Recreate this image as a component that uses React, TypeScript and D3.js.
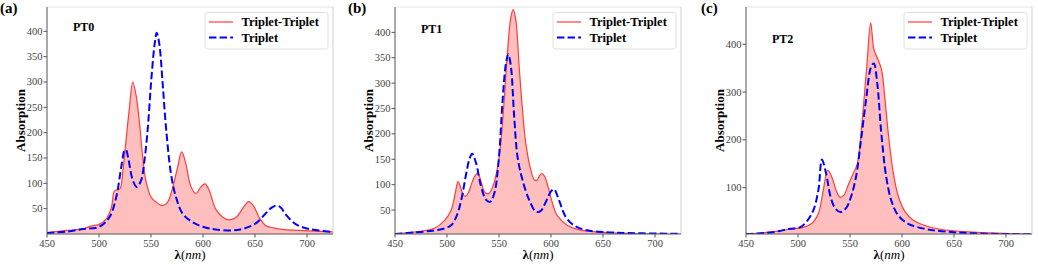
import React from 'react';
import * as d3 from 'd3';

// wavelength window and tick labels shared by all panels
const xDomain = [450, 725];
const xTicks = [450, 500, 550, 600, 650, 700];
const yTicksAB = [50, 100, 150, 200, 250, 300, 350, 400];
const yTicksC = [100, 200, 300, 400];

// PT0
const pt0TTWave = [450, 469, 485, 491, 500, 507, 512, 515, 520, 523, 526, 529, 532.5, 535.7, 539, 542, 545, 550, 555, 561, 566, 571, 575.6, 579.5, 583.5, 588, 593, 598, 602, 606, 612, 619, 625, 632, 638, 644, 649, 654, 660, 668, 676, 692, 725];
const pt0TTAbs = [3, 7, 10, 15, 19, 30, 53, 85, 89, 125, 185, 244, 300, 273, 218, 152, 106, 73, 63, 56, 63, 93, 132, 162, 139, 96, 80, 93, 99, 86, 50, 33, 28, 33, 50, 64, 54, 33, 17, 12, 9, 7, 4];
const pt0TWave = [450, 470, 485, 500, 510, 516.6, 521.4, 524.6, 526, 528, 532.5, 536.3, 540.5, 543.7, 547, 550, 553.5, 555.5, 558, 561.2, 564.4, 569.2, 574, 580.4, 588, 596, 604, 612, 628, 636, 644, 652, 660, 666, 670.5, 675, 679, 688.7, 698, 708, 725];
const pt0TAbs = [2, 5, 10, 14, 33, 73, 132, 165, 166, 151, 106, 93, 106, 145, 211, 297, 375, 397, 375, 297, 211, 119, 73, 40, 26, 17, 12, 9, 7, 9, 14, 23, 40, 52, 56, 52, 40, 20, 12, 8, 4];

// PT1
const pt1TTWave = [450, 470, 488, 498, 504, 508, 510.5, 512.7, 515, 517.5, 520.5, 524, 527, 529.6, 532.8, 536, 539.8, 544, 548.7, 552, 555, 558.3, 561.5, 563.7, 566.2, 569.4, 572.6, 575.8, 580.6, 583.8, 586.3, 588.5, 591, 594, 597, 600, 603, 606, 615.6, 625, 644, 673, 725];
const pt1TTAbs = [3, 7, 14, 30, 50, 84, 106, 97, 83, 77, 84, 104, 118, 122, 106, 86, 82, 96, 135, 188, 267, 365, 431, 445, 424, 332, 247, 181, 129, 110, 108, 116, 122, 116, 97, 74, 53, 39, 20, 12, 7, 4, 2];
const pt1TWave = [450, 470, 488, 498, 504, 509, 513.7, 518.5, 521.5, 524.2, 528, 532.8, 537.6, 541.4, 545.5, 549.7, 553.5, 556.7, 559, 561.5, 564.6, 567.8, 572.6, 579, 585.4, 590, 595, 599.7, 602.9, 607.6, 614, 622, 634.7, 657, 725];
const pt1TAbs = [3, 6, 10, 14, 20, 37, 70, 122, 150, 161, 142, 96, 70, 66, 83, 148, 267, 339, 357, 332, 234, 155, 109, 70, 47, 48, 66, 86, 91, 70, 37, 20, 10, 6, 3];

// PT2
const pt2TTWave = [450, 476.4, 492, 505.1, 513.1, 519.6, 524.3, 528.6, 532.4, 537.1, 540.4, 544.3, 548.4, 553.2, 557.1, 561.2, 566.1, 569.9, 573.1, 577.2, 580.4, 583.7, 586.8, 591.7, 596.6, 602.9, 610.9, 620.5, 636.6, 668.7, 725];
const pt2TTAbs = [2.5, 8, 13, 17, 25, 46, 95, 136, 123, 92, 80, 85, 106, 130, 151, 228, 353, 445, 388, 367, 346, 283, 214, 130, 81, 50, 32, 22, 13, 7, 2.5];
const pt2TWave = [450, 476.4, 492, 501.8, 508.3, 514.8, 519.6, 523, 527, 531.3, 535.7, 540.8, 546.2, 551, 555.8, 560.6, 565.4, 570.3, 572.9, 576.2, 580.1, 584.8, 589.6, 596, 605.5, 621.6, 637.7, 669.7, 725];
const pt2TAbs = [2.5, 7, 14, 17, 29, 53, 95, 159, 130, 81, 57, 49, 57, 81, 123, 200, 283, 353, 360, 318, 214, 123, 74, 43, 25, 14, 9, 4.5, 2.5];

const panels = [
  { tag: '(a)', name: 'PT0', left: 47, yDomain: [0, 448], yTicks: yTicksAB, nameY: 31,
    tt: pt0TTWave.map((w, i) => [w, pt0TTAbs[i]]), t: pt0TWave.map((w, i) => [w, pt0TAbs[i]]) },
  { tag: '(b)', name: 'PT1', left: 395, yDomain: [2.8, 450], yTicks: yTicksAB, nameY: 33,
    tt: pt1TTWave.map((w, i) => [w, pt1TTAbs[i]]), t: pt1TWave.map((w, i) => [w, pt1TAbs[i]]) },
  { tag: '(c)', name: 'PT2', left: 746, yDomain: [3.1, 478], yTicks: yTicksC, nameY: 43,
    tt: pt2TTWave.map((w, i) => [w, pt2TTAbs[i]]), t: pt2TWave.map((w, i) => [w, pt2TAbs[i]]) },
];

const W = 1038;
const H = 267;
const plotW = 286;
const top = 7;
const bottom = 234;
const serif = { fontFamily: "'Liberation Serif', 'DejaVu Serif', serif" };

function Panel({ p, idx }) {
  const x = d3.scaleLinear().domain(xDomain).range([p.left, p.left + plotW]);
  const y = d3.scaleLinear().domain(p.yDomain).range([bottom, top]);
  const line = d3.line().x(d => x(d[0])).y(d => y(d[1])).curve(d3.curveCatmullRom.alpha(0.5));
  const area = d3.area().x(d => x(d[0])).y0(bottom).y1(d => y(d[1])).curve(d3.curveCatmullRom.alpha(0.5));
  const clipId = `clip${idx}`;
  const right = p.left + plotW;
  const lgX = right - 128;
  const lgY = 12.5;
  const tagX = [0, 348, 701][idx];

  return (
    <g style={serif}>
      <defs>
        <clipPath id={clipId}>
          <rect x={p.left} y={top} width={plotW} height={bottom - top} />
        </clipPath>
      </defs>
      <text x={tagX} y={13} fontWeight="bold" fontSize={15}>{p.tag}</text>

      <g clipPath={`url(#${clipId})`}>
        <path d={area(p.tt)} fill="#ffbfbf" />
        <path d={line(p.tt)} fill="none" stroke="#ff3c3c" strokeWidth={1.2} />
        <path d={line(p.t)} fill="none" stroke="#0000ff" strokeWidth={2} strokeDasharray="7.4,3.2" />
      </g>

      {/* frame */}
      <line x1={p.left} x2={right} y1={top} y2={top} stroke="#e2e2e2" strokeWidth={1} />
      <line x1={right} x2={right} y1={top} y2={bottom} stroke="#cfcfcf" strokeWidth={1} />
      <line x1={p.left} x2={p.left} y1={top} y2={bottom} stroke="#555" strokeWidth={1} />
      <line x1={p.left} x2={right} y1={bottom} y2={bottom} stroke="#555" strokeWidth={1} />

      {xTicks.map(t => (
        <g key={t}>
          <line x1={x(t)} x2={x(t)} y1={bottom} y2={bottom + 3.5} stroke="#555" />
          <text x={x(t)} y={bottom + 13} textAnchor="middle" fontSize={10.5} fill="#444">{t}</text>
        </g>
      ))}
      {p.yTicks.map(t => (
        <g key={t}>
          <line x1={p.left - 3.5} x2={p.left} y1={y(t)} y2={y(t)} stroke="#555" />
          <text x={p.left - 4.5} y={y(t) + 3.5} textAnchor="end" fontSize={10.5} fill="#444">{t}</text>
        </g>
      ))}

      <text transform={`translate(${p.left - 22},${(top + bottom) / 2}) rotate(-90)`} textAnchor="middle"
        fontWeight="bold" fontSize={13}>Absorption</text>
      <text x={(p.left + right) / 2} y={259} textAnchor="middle" fontSize={13}>
        <tspan fontWeight="bold">λ</tspan><tspan>(</tspan><tspan fontStyle="italic">nm</tspan><tspan>)</tspan>
      </text>

      <text x={p.left + 26} y={p.nameY} fontWeight="bold" fontSize={12}>{p.name}</text>

      {/* legend */}
      <rect x={lgX} y={lgY} width={123} height={36.5} rx={2.5} fill="white" fillOpacity={0.8} stroke="#d8d8d8" strokeWidth={0.8} />
      <line x1={lgX + 4} x2={lgX + 28} y1={lgY + 9.5} y2={lgY + 9.5} stroke="#ff3c3c" strokeWidth={1.2} />
      <text x={lgX + 36.5} y={lgY + 13.5} fontWeight="bold" fontSize={12.5}>Triplet-Triplet</text>
      <line x1={lgX + 4} x2={lgX + 28} y1={lgY + 25} y2={lgY + 25} stroke="#0000ff" strokeWidth={2} strokeDasharray="7.4,3.2" />
      <text x={lgX + 36.5} y={lgY + 29} fontWeight="bold" fontSize={12.5}>Triplet</text>
    </g>
  );
}

export default function App() {
  return (
    <svg width={W} height={H} style={{ position: 'absolute', left: 0, top: 0, background: 'white' }}>
      <rect width={W} height={H} fill="white" />
      {panels.map((p, i) => <Panel key={p.name} p={p} idx={i} />)}
    </svg>
  );
}
